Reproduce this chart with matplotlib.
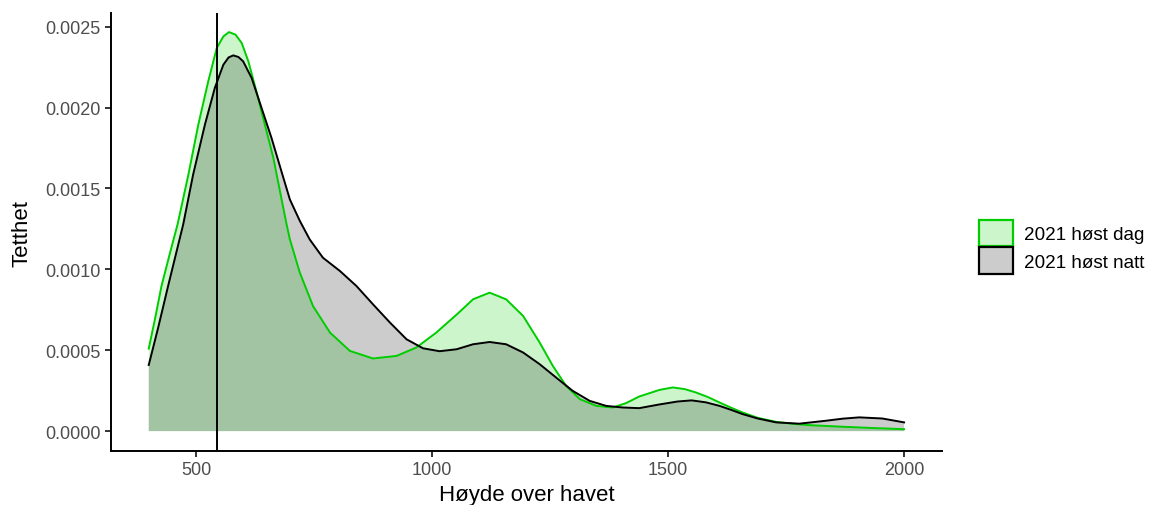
import matplotlib

matplotlib.use('Agg')
import matplotlib.pyplot as plt
from matplotlib.patches import Patch

plt.rcParams['font.family'] = ['Liberation Sans', 'DejaVu Sans']

GREEN = '#00cd00'
SERIES = ['2021 høst dag', '2021 høst natt']

# density estimates along the height axis
dag_x = [400, 413, 427, 444, 461, 484, 505, 526, 544, 558, 570, 584, 597, 611, 628, 646,
         664, 678, 692, 699, 720, 748, 784, 826, 875, 925, 967, 1009, 1052, 1087, 1122,
         1157, 1193, 1228, 1256, 1284, 1313, 1348, 1383, 1411, 1439, 1482, 1510, 1535,
         1559, 1585, 1609, 1635, 1658, 1690, 1729, 1765, 1799, 1870, 1935, 2000]
dag_y = [0.000510, 0.000690, 0.000897, 0.001090, 0.001278, 0.001586, 0.001895, 0.002162,
         0.002368, 0.002440, 0.002467, 0.002451, 0.002399, 0.002286, 0.002101, 0.001895,
         0.001689, 0.001483, 0.001278, 0.001185, 0.000980, 0.000773, 0.000609, 0.000496,
         0.000449, 0.000465, 0.000517, 0.000609, 0.000720, 0.000815, 0.000856, 0.000815,
         0.000712, 0.000548, 0.000403, 0.000280, 0.000198, 0.000156, 0.000146, 0.000173,
         0.000214, 0.000255, 0.000270, 0.000260, 0.000239, 0.000210, 0.000177, 0.000143,
         0.000115, 0.000082, 0.000057, 0.000045, 0.000037, 0.000027, 0.000019, 0.000012]

natt_x = [400, 420, 441, 473, 494, 519, 540, 558, 569, 579, 590, 600, 618, 639, 660, 681,
          699, 720, 741, 769, 805, 840, 875, 911, 946, 981, 1016, 1052, 1087, 1122, 1157,
          1193, 1228, 1263, 1298, 1334, 1369, 1404, 1439, 1482, 1520, 1550, 1580, 1609,
          1635, 1658, 1690, 1729, 1778, 1834, 1870, 1905, 1954, 2000]
natt_y = [0.000409, 0.000640, 0.000897, 0.001278, 0.001586, 0.001895, 0.002122, 0.002265,
          0.002310, 0.002323, 0.002313, 0.002286, 0.002183, 0.001998, 0.001813, 0.001607,
          0.001432, 0.001300, 0.001185, 0.001072, 0.000990, 0.000897, 0.000784, 0.000671,
          0.000568, 0.000512, 0.000494, 0.000506, 0.000537, 0.000551, 0.000537, 0.000486,
          0.000414, 0.000331, 0.000249, 0.000187, 0.000156, 0.000146, 0.000142, 0.000165,
          0.000183, 0.000190, 0.000178, 0.000156, 0.000130, 0.000105, 0.000078, 0.000054,
          0.000046, 0.000064, 0.000077, 0.000085, 0.000078, 0.000054]

mean_height = 545

fig = plt.figure(figsize=(11.5, 5.06), dpi=100)
ax = fig.add_axes((0.0965, 0.1067, 0.7225, 0.8653))

ax.fill_between(dag_x, dag_y, 0, facecolor=GREEN, alpha=0.2, linewidth=0)
ax.plot(dag_x, dag_y, color=GREEN, linewidth=1.4, solid_joinstyle='round')
ax.fill_between(natt_x, natt_y, 0, facecolor='black', alpha=0.2, linewidth=0)
ax.plot(natt_x, natt_y, color='black', linewidth=1.4, solid_joinstyle='round')
ax.axvline(mean_height, color='black', linewidth=1.4)

ax.set_xlim(320, 2080)
ax.set_ylim(-0.000123, 0.002584)
ax.set_xticks([500, 1000, 1500, 2000])
ax.set_yticks([0, 0.0005, 0.0010, 0.0015, 0.0020, 0.0025])
ax.set_yticklabels(['0.0000', '0.0005', '0.0010', '0.0015', '0.0020', '0.0025'])
ax.tick_params(labelsize=13, labelcolor='#4d4d4d', color='#333333', length=4, width=1.4)

for side in ['top', 'right']:
    ax.spines[side].set_visible(False)
for side in ['left', 'bottom']:
    ax.spines[side].set_linewidth(1.4)

ax.set_xlabel('Høyde over havet', fontsize=16, labelpad=4)
ax.set_ylabel('Tetthet', fontsize=16, labelpad=9)

handles = [
    Patch(facecolor=(0, 0.804, 0, 0.2), edgecolor=GREEN, linewidth=1.6),
    Patch(facecolor=(0, 0, 0, 0.2), edgecolor='black', linewidth=1.6),
]
fig.legend(handles, SERIES, loc='center left', bbox_to_anchor=(0.8445, 0.51),
           frameon=False, fontsize=13.6, handlelength=1.8, handleheight=1.8,
           handletextpad=0.6, labelspacing=0.05, borderaxespad=0)

fig.savefig('out.png', dpi=100)
